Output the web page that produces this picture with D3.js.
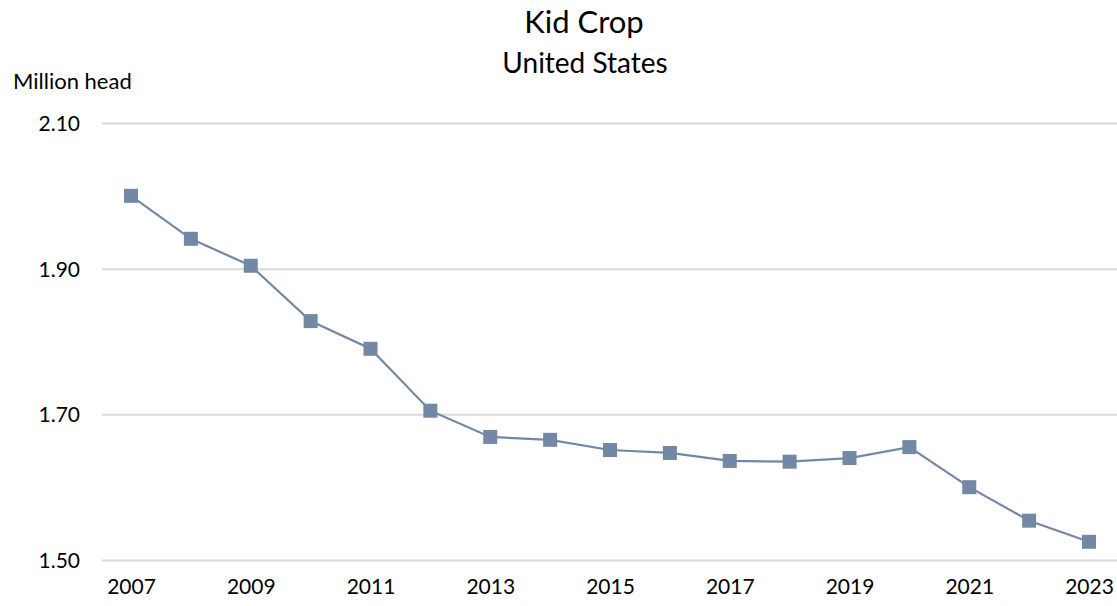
<!DOCTYPE html>
<html>
<head>
<meta charset="utf-8">
<script src="https://cdn.jsdelivr.net/npm/d3@7"></script>
<style>
  body { margin: 0; background: #fff; }
  text { font-family: Lato, "Open Sans", sans-serif; fill: #000; }
  .grid line { stroke: #d9d9d9; stroke-width: 2; }
  .grid .domain { display: none; }
  .axis .domain, .axis line { display: none; }
  .axis text { fill: #000; }
</style>
</head>
<body>
<svg id="chart" width="1117" height="606"></svg>
<script>
var years = [2007, 2008, 2009, 2010, 2011, 2012, 2013, 2014, 2015, 2016, 2017, 2018, 2019, 2020, 2021, 2022, 2023];
var kids = [2.00, 1.941, 1.904, 1.828, 1.790, 1.705, 1.669, 1.665, 1.651, 1.647, 1.636, 1.635, 1.640, 1.655, 1.600, 1.554, 1.525];
var yTicks = [1.50, 1.70, 1.90, 2.10];
var xTicks = [2007, 2009, 2011, 2013, 2015, 2017, 2019, 2021, 2023];

var svg = d3.select('#chart');

var x = d3.scaleLinear().domain([2007, 2023]).range([131, 1089]),
    y = d3.scaleLinear().domain([1.50, 2.10]).range([560, 123]);

// gridlines
svg.append('g')
   .attr('class', 'grid')
   .attr('transform', 'translate(102,0)')
   .call(d3.axisLeft(y).tickValues(yTicks).tickSize(-1015).tickFormat(''));

svg.append('g')
   .attr('class', 'axis')
   .attr('transform', 'translate(80,0)')
   .call(d3.axisLeft(y).tickValues(yTicks).tickSize(0).tickPadding(0).tickFormat(d3.format('.2f')))
   .selectAll('text')
   .style('font-size', '21px')
   .attr('dy', '0.36em');

svg.append('g')
   .attr('class', 'axis')
   .attr('transform', 'translate(0,594)')
   .call(d3.axisBottom(x).tickValues(xTicks).tickSize(0).tickPadding(0).tickFormat(d3.format('d')))
   .selectAll('text')
   .style('font-size', '21px')
   .attr('y', 0)
   .attr('dy', 0);

var line = d3.line()
             .x(function(d, i) { return x(years[i]); })
             .y(function(d) { return y(d); });

svg.append('path')
   .datum(kids)
   .attr('fill', 'none')
   .attr('stroke', '#7388a5')
   .attr('stroke-width', 2.2)
   .attr('d', line);

svg.selectAll('.marker')
   .data(kids)
   .enter()
   .append('rect')
   .attr('class', 'marker')
   .attr('x', function(d, i) { return x(years[i]) - 7; })
   .attr('y', function(d) { return y(d) - 7; })
   .attr('width', 14)
   .attr('height', 14)
   .attr('fill', '#7388a5');

svg.append('text')
   .attr('x', 584)
   .attr('y', 33)
   .attr('text-anchor', 'middle')
   .style('font-size', '31px')
   .text('Kid Crop');

svg.append('text')
   .attr('x', 585)
   .attr('y', 73)
   .attr('text-anchor', 'middle')
   .style('font-size', '28px')
   .text('United States');

svg.append('text')
   .attr('x', 13)
   .attr('y', 89)
   .style('font-size', '22px')
   .text('Million head');
</script>
</body>
</html>
